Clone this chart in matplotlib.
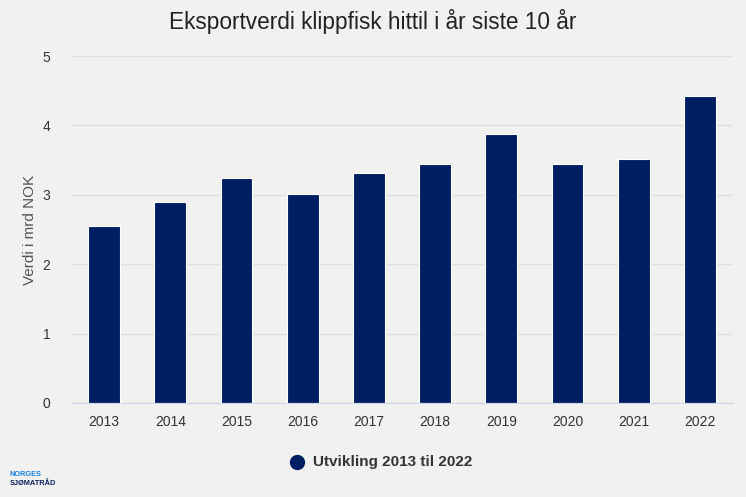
import numpy as np
import matplotlib.pyplot as plt

plt.rcParams['font.family'] = ['Liberation Sans', 'DejaVu Sans']

years = ['2013', '2014', '2015', '2016', '2017', '2018', '2019', '2020', '2021', '2022']
values = [2.55, 2.90, 3.24, 3.01, 3.31, 3.45, 3.88, 3.45, 3.51, 4.42]
series_name = 'Utvikling 2013 til 2022'

bg = '#f1f2f0'
bar_color = '#001e62'

fig = plt.figure(figsize=(7.46, 4.97), dpi=100, facecolor=bg)
ax = fig.add_axes([71 / 746, 1 - 403 / 497, 662 / 746, 347 / 497], facecolor=bg)

x = np.arange(len(years))
ax.bar(x, values, width=0.48, color=bar_color, edgecolor='white', linewidth=0.8,
       zorder=3)

ax.set_xlim(-0.5, len(years) - 0.5)
ax.set_ylim(0, 5)
ax.set_yticks(range(0, 6))
ax.set_xticks(x)
ax.set_xticklabels(years)
ax.grid(axis='y', color='#e0e0e0', linewidth=1, zorder=0)
for side in ['top', 'right', 'left']:
    ax.spines[side].set_visible(False)
ax.spines['bottom'].set_color('#ccd6eb')
ax.spines['bottom'].set_zorder(4)
ax.tick_params(axis='both', length=0, labelsize=10, colors='#333333')
ax.tick_params(axis='x', pad=9)
ax.tick_params(axis='y', pad=15)
ax.set_ylabel('Verdi i mrd NOK', fontsize=11, color='#555555')
ax.yaxis.set_label_coords(-0.052, 0.5)

fig.text(0.5, 1 - 22 / 497, 'Eksportverdi klippfisk hittil i år siste 10 år',
         ha='center', va='center', fontsize=16.3, color='#222222')

# legend
fig.text(313 / 746, 1 - 462 / 497, series_name, ha='left', va='center',
         fontsize=11, fontweight='bold', color='#333333')
fig.lines.append(plt.Line2D([297 / 746], [1 - 462 / 497], marker='o', markersize=10,
                            color=bar_color, transform=fig.transFigure))

# logo
fig.text(10 / 746, 1 - 475 / 497, 'NORGES', fontsize=5.3, fontweight='bold',
         color='#1d7fe0', va='center', ha='left')
fig.text(10 / 746, 1 - 483.5 / 497, 'SJØMATRÅD', fontsize=5.3, fontweight='bold',
         color='#0a1f5c', va='center', ha='left')

fig.savefig('out.png', dpi=100, facecolor=bg)
